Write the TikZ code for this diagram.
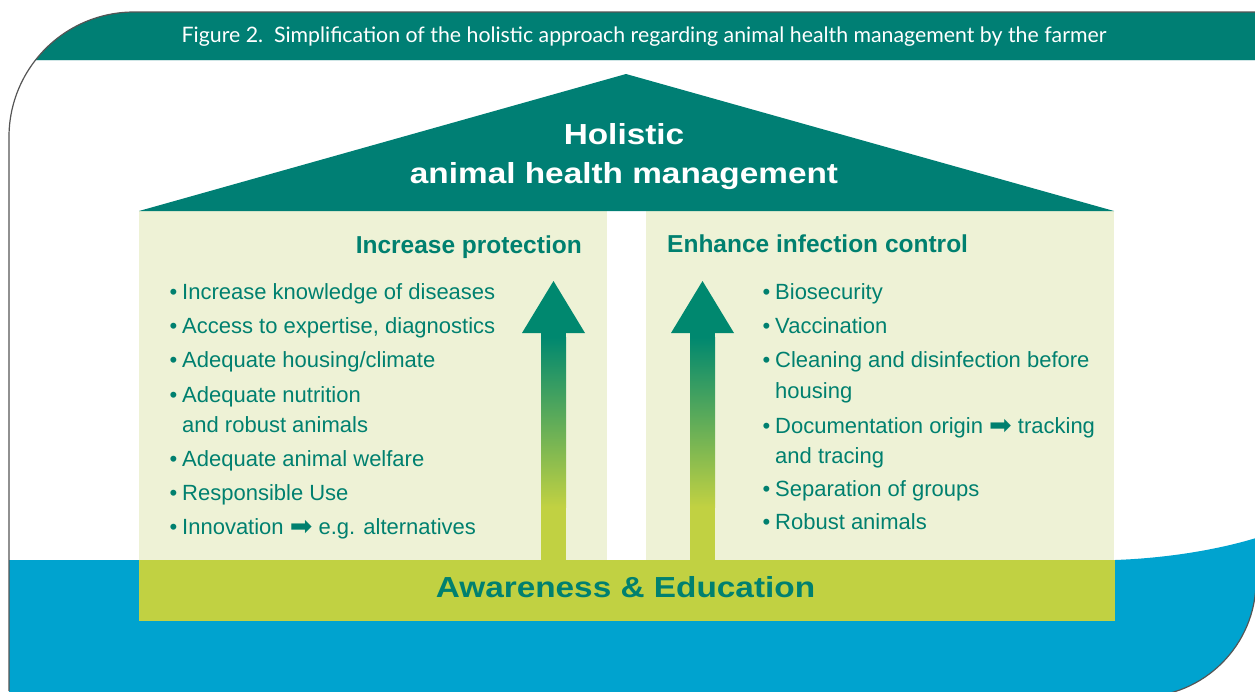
\documentclass[tikz,border=0pt]{standalone}
\usepackage{fontspec}
\setmainfont{Liberation Sans}
\newfontfamily\capfont{Lato}
\newfontfamily\widefont[FakeStretch=1.15]{Liberation Sans}
\newfontfamily\symfont{DejaVu Sans}
\usetikzlibrary{positioning}
\definecolor{roofteal}{HTML}{007F74}
\definecolor{textteal}{HTML}{00806F}
\definecolor{arrowteal}{HTML}{00886F}
\definecolor{wallgreen}{HTML}{EEF2D6}
\definecolor{barlime}{HTML}{C1D142}
\definecolor{seablue}{HTML}{00A3CF}
\definecolor{framegray}{HTML}{555555}
\definecolor{rimline}{HTML}{CFE6E6}
\tikzset{
  item/.style={anchor=base west, inner sep=0pt, text=textteal,
    font=\fontsize{22}{26}\selectfont},
  heading/.style={inner sep=0pt, text=textteal,
    font=\bfseries\fontsize{24.5}{28}\selectfont},
  rooftext/.style={anchor=base, inner sep=0pt, text=white,
    font=\widefont\bfseries\fontsize{29}{34}\selectfont},
  banner/.style={anchor=base, inner sep=0pt, text=textteal,
    font=\widefont\bfseries\fontsize{29}{34}\selectfont},
  caption/.style={anchor=base, inner sep=0pt, text=white,
    font=\capfont\fontsize{21.3}{24}\selectfont},
  frame/.style={draw=framegray, line width=1.2pt}
}
\newcommand{\myItem}[4]{
\node[item] (#1) at (#2,#3) {\llap{\textbullet\kern5pt}#4};
}
\newcommand{\myPointer}{{\symfont\fontsize{27}{27}\selectfont\raisebox{-1.5pt}{➡}}}
\newcommand{\myArrow}[2]{
\coordinate (#1tip) at (#2,281);
\coordinate (#1foot) at (#2,560);
\fill[arrowteal] (#2-31.5,333) -- (#1tip) -- (#2+31.5,333) -- cycle;
\fill[arrowteal] (#2-12.5,332.5) rectangle (#2+12.5,338);
\shade[top color=arrowteal, bottom color=barlime] (#2-12.5,337.5) rectangle (#2+12.5,507);
\fill[barlime] (#2-12.5,506.5) rectangle (#1foot -| {#2+12.5,0});
}

\begin{document}
\begin{tikzpicture}[x=1pt,y=-1pt]
			\useasboundingbox (0,0) rectangle (1255,691);
			% define points
			\coordinate (roofL) at (139,211);
			\coordinate (roofT) at (626,74);
			\coordinate (roofR) at (1114,211);
			\coordinate (corner) at (134,12);
			% header band
			\begin{scope}
				\clip (9,691) -- (9,137) .. controls (9,68) and (65,12) .. (corner) -- (1256,12) -- (1256,691) -- cycle;
				\fill[roofteal] (0,12) rectangle (1256,60);
				\draw[rimline, line width=1pt] (0,60.5) -- (1256,60.5);
			\end{scope}
			\node[caption] (figtitle) at (644,42) {Figure 2.\ \ Simplification of the holistic approach regarding animal health management by the farmer};
			% water
			\fill[seablue] (9,560) -- (1115,560) .. controls (1170,558) and (1220,549) .. (1256,538)
				-- (1256,581) .. controls (1256,645) and (1204,697) .. (1140,697) -- (9,697) -- cycle;
			% walls and roof
			\fill[wallgreen] (roofL) rectangle (607,560);
			\fill[wallgreen] (646,211) rectangle (1114,560);
			\fill[roofteal] (roofL) -- (roofT) -- (roofR) -- cycle;
			\fill[barlime] (139,560) rectangle (1115,621);
			% arrows
			\myArrow{up1}{553.5}
			\myArrow{up2}{702.5}
			% texts
			\node[rooftext] (holistic) at (624,144) {Holistic};
			\node[rooftext] (management) at (624,183) {animal health management};
			\node[heading, anchor=base east] (protection) at (582,253) {Increase protection};
			\node[heading, anchor=base west] (control) at (667,252) {Enhance infection control};
			\node[banner] (awareness) at (625.5,597) {Awareness \& Education};
			% left list
			\myItem{knowledge}{182}{299}{Increase knowledge of diseases}
			\myItem{expertise}{182}{333}{Access to expertise, diagnostics}
			\myItem{housing}{182}{367}{Adequate housing/climate}
			\myItem{nutrition}{182}{402}{Adequate nutrition}
			\node[item] (robust) at (182,432) {and robust animals};
			\myItem{welfare}{182}{466}{Adequate animal welfare}
			\myItem{use}{182}{500}{Responsible Use}
			\myItem{innovation}{182}{534}{Innovation \myPointer\ e.g. alternatives}
			% right list
			\myItem{biosecurity}{775}{299}{Biosecurity}
			\myItem{vaccination}{775}{333}{Vaccination}
			\myItem{cleaning}{775}{367}{Cleaning and disinfection before}
			\node[item] (cleaning2) at (775,398) {housing};
			\myItem{origin}{775}{433}{Documentation origin \myPointer\ tracking}
			\node[item] (origin2) at (775,463) {and tracing};
			\myItem{groups}{775}{496}{Separation of groups}
			\myItem{animals}{775}{529}{Robust animals}
			% frame
			\draw[frame] (9,691) -- (9,137) .. controls (9,68) and (65,12) .. (corner) -- (1256,12);
			\draw[frame] (1256,581) .. controls (1256,645) and (1204,697) .. (1140,697);
		\end{tikzpicture}
\end{document}
